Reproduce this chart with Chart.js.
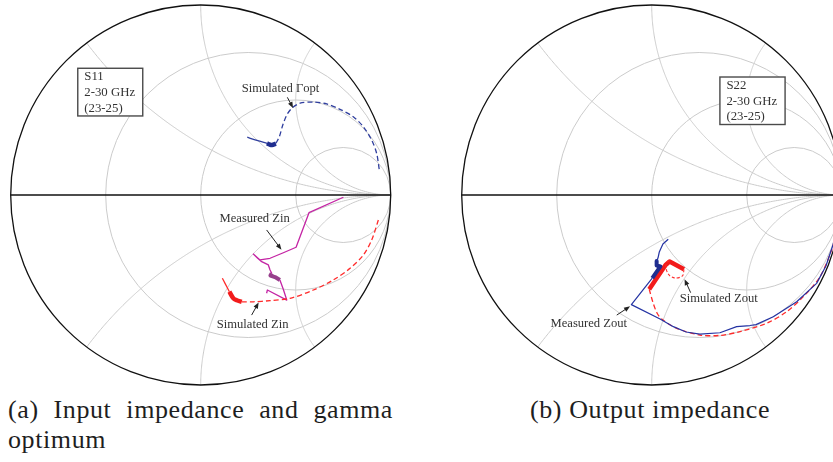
<!DOCTYPE html>
<html>
<head>
<meta charset="utf-8">
<title>Input and output impedance Smith charts</title>
<script src="https://cdn.jsdelivr.net/npm/chart.js@4/dist/chart.umd.min.js"></script>
<style>
  html, body { margin: 0; padding: 0; background: #fff; width: 833px; height: 462px; overflow: hidden; }
  #wrap { position: relative; width: 833px; height: 462px; overflow: hidden; }
  .plot { position: absolute; top: 0; }
  .cap { position: absolute; font-family: "Liberation Serif", "Times New Roman", serif; font-size: 26px;
         color: #1e1e1e; line-height: 30px; white-space: nowrap; letter-spacing: 0.6px; }
  .just { text-align: justify; text-align-last: justify; white-space: normal; }
</style>
</head>
<body>
<div id="wrap">
  <canvas id="s11" class="plot" width="400" height="392" style="left:0px"></canvas>
  <canvas id="s22" class="plot" width="400" height="392" style="left:451px"></canvas>
  <div class="cap just" style="left:8px; top:395px; width:385px;">(a) Input impedance and gamma</div>
  <div class="cap" style="left:8px; top:425px;">optimum</div>
  <div class="cap" style="left:530px; top:395px;">(b) Output impedance</div>
</div>
<script>
// ---- Smith chart grid (normalised resistance circles, reactance arcs) ----
const rCircles = [1/3, 1, 3];
const xArcs = [0.5, 1, 2, -0.5, -1, -2];

// ---- S11 traces, reflection coefficient [re, im] ----
// simulated optimum source reflection (dashed part, 2-23 GHz)
const simGoptMain = [
  [0.396, 0.272], [0.414, 0.307], [0.432, 0.368], [0.453, 0.421], [0.479, 0.456],
  [0.523, 0.483], [0.593, 0.489], [0.663, 0.479], [0.733, 0.451], [0.803, 0.412],
  [0.856, 0.359], [0.900, 0.289], [0.926, 0.219], [0.940, 0.132]
];
// 23-25 GHz band
const simGoptBand = [[0.349, 0.272], [0.362, 0.266], [0.375, 0.263], [0.396, 0.270]];
// above 25 GHz
const simGoptTail = [[0.245, 0.304], [0.296, 0.287], [0.349, 0.272]];

const simZinMain = [
  [0.935, -0.132], [0.900, -0.237], [0.856, -0.316], [0.786, -0.386], [0.698, -0.447],
  [0.593, -0.500], [0.470, -0.544], [0.365, -0.556], [0.277, -0.562], [0.216, -0.562]
];
const simZinBand = [[0.216, -0.562], [0.190, -0.554], [0.172, -0.544], [0.151, -0.509]];
const simZinTail = [[0.151, -0.509], [0.128, -0.465], [0.114, -0.438]];

const measZinMain = [
  [0.751, -0.012], [0.570, -0.093], [0.502, -0.275], [0.435, -0.304], [0.365, -0.333],
  [0.312, -0.342], [0.277, -0.311], [0.300, -0.333], [0.321, -0.351], [0.356, -0.368],
  [0.365, -0.395], [0.374, -0.412]
];
const measZinBand = [[0.374, -0.412], [0.367, -0.424], [0.391, -0.432], [0.417, -0.447]];
const measZinTail = [[0.417, -0.447], [0.436, -0.500], [0.453, -0.553], [0.351, -0.500], [0.347, -0.517]];

// ---- S22 traces ----
const measZoutMain = [[0.087, -0.233], [0.059, -0.258], [0.040, -0.300], [0.033, -0.332], [0.026, -0.347]];
const measZoutBand = [[0.026, -0.347], [0.026, -0.371], [0.046, -0.376], [0.003, -0.438]];
const measZoutTail = [
  [0.003, -0.438], [-0.107, -0.577], [0.044, -0.653], [0.114, -0.693], [0.181, -0.721],
  [0.254, -0.732], [0.359, -0.725], [0.447, -0.693], [0.517, -0.687], [0.549, -0.682],
  [0.640, -0.641], [0.763, -0.562], [0.868, -0.465], [0.917, -0.374], [0.954, -0.263], [0.980, -0.158]
];
const simZoutBand = [[-0.013, -0.496], [0.073, -0.368], [0.094, -0.350], [0.170, -0.391]];
const simZoutLoop = [
  [0.170, -0.391], [0.162, -0.426], [0.123, -0.437], [0.091, -0.421], [0.075, -0.384],
  [0.081, -0.353], [0.102, -0.342]
];
const simZoutMain = [
  [-0.013, -0.496], [0.008, -0.570], [0.028, -0.621], [0.053, -0.653], [0.132, -0.702],
  [0.254, -0.737], [0.359, -0.739], [0.465, -0.719], [0.605, -0.675], [0.711, -0.614],
  [0.798, -0.535], [0.886, -0.430], [0.947, -0.289], [0.980, -0.174]
];

// ---- text placed on each chart (positions in reflection-coefficient units) ----
const notesS11 = {
  box: { lines: ['S11', '2-30 GHz', '(23-25)'], tl: [-0.647, 0.667], br: [-0.305, 0.416] },
  labels: [
    { text: 'Simulated \u0393opt', at: [0.420, 0.562], from: [0.456, 0.514], to: [0.486, 0.458] },
    { text: 'Measured Zin', at: [0.284, -0.126], from: [0.347, -0.184], to: [0.425, -0.288] },
    { text: 'Simulated Zin', at: [0.273, -0.684], from: [0.268, -0.632], to: [0.305, -0.566] }
  ]
};
const notesS22 = {
  box: { lines: ['S22', '2-30 GHz', '(23-25)'], tl: [0.359, 0.621], br: [0.702, 0.371] },
  labels: [
    { text: 'Simulated Zout', at: [0.353, -0.547], from: [0.205, -0.514], to: [0.173, -0.443] },
    { text: 'Measured Zout', at: [-0.331, -0.679], from: [-0.184, -0.632], to: [-0.114, -0.586] }
  ]
};

const GRID_COLOR = '#cbcbcb';
const TEXT_COLOR = '#333';

function pts(arr) { return arr.map(p => ({ x: p[0], y: p[1] })); }

// simulated traces are smooth, measured traces are plain polylines
function line(data, color, width, dash, smooth) {
  return {
    data: pts(data), showLine: true, borderColor: color, backgroundColor: color,
    borderWidth: width, borderDash: dash || [], pointRadius: 0, pointHoverRadius: 0,
    tension: smooth ? 0.3 : 0, borderCapStyle: 'butt', borderJoinStyle: 'round', clip: false
  };
}

// grid, rim and horizontal axis drawn beneath the traces
const smithGrid = {
  id: 'smithGrid',
  beforeDatasetsDraw(chart) {
    const { ctx, scales: { x, y } } = chart;
    const px = v => x.getPixelForValue(v);
    const py = v => y.getPixelForValue(v);
    ctx.save();
    ctx.strokeStyle = GRID_COLOR;
    ctx.lineWidth = 1;
    rCircles.forEach(r => {
      const c = r / (1 + r), rad = 1 / (1 + r);
      ctx.beginPath();
      ctx.arc(px(c), py(0), px(c + rad) - px(c), 0, Math.PI * 2);
      ctx.stroke();
    });
    xArcs.forEach(xv => {
      ctx.beginPath();
      const n = 240;
      for (let i = 0; i <= n; i++) {
        const r = Math.tan((i / n) * (Math.PI / 2 - 1e-4));
        const den = (r + 1) * (r + 1) + xv * xv;
        const gr = (r * r - 1 + xv * xv) / den, gi = 2 * xv / den;
        if (i === 0) ctx.moveTo(px(gr), py(gi)); else ctx.lineTo(px(gr), py(gi));
      }
      ctx.lineTo(px(1), py(0));
      ctx.stroke();
    });
    ctx.strokeStyle = '#111';
    ctx.lineWidth = 1.3;
    ctx.beginPath();
    ctx.arc(px(0), py(0), px(1) - px(0), 0, Math.PI * 2);
    ctx.stroke();
    ctx.beginPath();
    ctx.moveTo(px(-1), py(0));
    ctx.lineTo(px(1), py(0));
    ctx.stroke();
    ctx.restore();
  },
  afterDatasetsDraw(chart, args, opts) {
    const notes = opts.notes;
    if (!notes) return;
    const { ctx, scales: { x, y } } = chart;
    const px = v => x.getPixelForValue(v);
    const py = v => y.getPixelForValue(v);
    ctx.save();
    // legend-style box
    const b = notes.box;
    const x0 = px(b.tl[0]), y0 = py(b.tl[1]), x1 = px(b.br[0]), y1 = py(b.br[1]);
    ctx.fillStyle = '#fff';
    ctx.fillRect(x0, y0, x1 - x0, y1 - y0);
    ctx.strokeStyle = '#4a4a4a';
    ctx.lineWidth = 1.4;
    ctx.strokeRect(x0, y0, x1 - x0, y1 - y0);
    ctx.fillStyle = TEXT_COLOR;
    ctx.font = '12.8px "Liberation Serif", serif';
    ctx.textAlign = 'left';
    ctx.textBaseline = 'middle';
    const step = (y1 - y0) / b.lines.length;
    b.lines.forEach((t, i) => ctx.fillText(t, x0 + 6.5, y0 + step * (i + 0.5) + 0.5));
    // labels with arrows
    ctx.font = '12.6px "Liberation Serif", serif';
    ctx.textAlign = 'center';
    notes.labels.forEach(l => {
      ctx.fillStyle = TEXT_COLOR;
      ctx.fillText(l.text, px(l.at[0]), py(l.at[1]));
      const ax = px(l.from[0]), ay = py(l.from[1]), bx = px(l.to[0]), by = py(l.to[1]);
      const ang = Math.atan2(by - ay, bx - ax);
      ctx.strokeStyle = '#222';
      ctx.fillStyle = '#222';
      ctx.lineWidth = 1;
      ctx.beginPath();
      ctx.moveTo(ax, ay);
      ctx.lineTo(bx - 3 * Math.cos(ang), by - 3 * Math.sin(ang));
      ctx.stroke();
      ctx.beginPath();
      ctx.moveTo(bx, by);
      ctx.lineTo(bx - 6 * Math.cos(ang) + 2.4 * Math.sin(ang), by - 6 * Math.sin(ang) - 2.4 * Math.cos(ang));
      ctx.lineTo(bx - 6 * Math.cos(ang) - 2.4 * Math.sin(ang), by - 6 * Math.sin(ang) + 2.4 * Math.cos(ang));
      ctx.closePath();
      ctx.fill();
    });
    ctx.restore();
  }
};

function smithChart(id, datasets, notes) {
  return new Chart(document.getElementById(id), {
    type: 'scatter',
    data: { datasets },
    options: {
      responsive: false,
      animation: false,
      devicePixelRatio: 1,
      layout: { padding: { left: 10.7, right: 9.3, top: 5, bottom: 7 } },
      scales: {
        x: { type: 'linear', min: -1, max: 1, display: false },
        y: { type: 'linear', min: -1, max: 1, display: false }
      },
      plugins: { legend: { display: false }, tooltip: { enabled: false }, smithGrid: { notes } },
      events: []
    },
    plugins: [smithGrid]
  });
}

smithChart('s11', [
  line(simGoptMain, '#2f3e9e', 1.3, [5, 3], true),
  line(simGoptTail, '#2f3e9e', 1.3, null, true),
  line(simGoptBand, '#1f2d8f', 4.5, null, true),
  line(simZinMain, '#ff2b2b', 1.3, [5, 3], true),
  line(simZinTail, '#ff2b2b', 1.3, null, true),
  line(simZinBand, '#f21b1b', 4.5, null, true),
  line(measZinMain, '#c424a4', 1.3),
  line(measZinTail, '#c424a4', 1.3),
  line(measZinBand, '#97408c', 4)
], notesS11);

smithChart('s22', [
  line(measZoutMain, '#2433a3', 1.2),
  line(measZoutTail, '#2433a3', 1.2),
  line(simZoutMain, '#ff2b2b', 1.3, [5, 3], true),
  line(simZoutLoop, '#ff2b2b', 1.1, [3, 2], true),
  line(measZoutBand, '#1f2d8f', 4),
  line(simZoutBand, '#f21b1b', 4.5)
], notesS22);
</script>
</body>
</html>
